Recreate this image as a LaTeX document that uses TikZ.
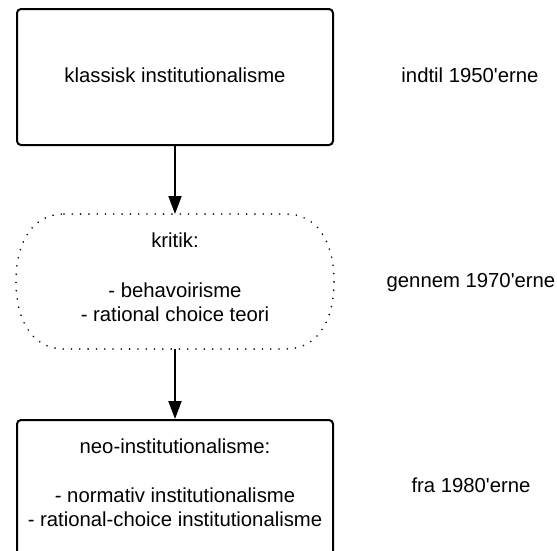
\documentclass[tikz,border=0pt]{standalone}
\usepackage{fontspec}
\setmainfont{Liberation Sans}[Ligatures=TeXOff]
\usetikzlibrary{arrows.meta}
\begin{document}
\begin{tikzpicture}[x=1pt,y=-1pt,
  box/.style={draw=black, line width=2pt, rounded corners=4pt,
    minimum width=316pt, minimum height=136pt, inner sep=0pt},
  bubblebox/.style={minimum width=318pt, minimum height=135pt, inner sep=0pt, outer sep=0pt},
  bubbleline/.style={line width=1.8pt, line cap=round, dash pattern=on 0pt off 8.3pt},
  txt/.style={anchor=base, inner sep=0pt, font=\fontsize{20.3}{24.5}\selectfont, text=black},
  flow/.style={-{Triangle[length=18pt,width=13pt]}, line width=2pt}]
\clip (0,0) rectangle (557,550);

% boxes
\node[box] (klassisk) at (175,77) {};
\node[bubblebox] (kritik) at (175,281.5) {};
\node[box] (neo) at (175,488) {};

% dotted rounded outline of the critique stage
\draw[bubbleline] (64,214) -- (286,214)
  .. controls (316,214) and (334,240) .. (334,281.5)
  .. controls (334,323) and (316,349) .. (286,349)
  -- (64,349)
  .. controls (34,349) and (16,323) .. (16,281.5)
  .. controls (16,240) and (34,214) .. cycle;

% texts in the boxes
\node[txt] (t1) at (175,82) {klassisk institutionalisme};
\node[txt] (t2) at (175,247) {kritik:};
\node[txt] (t3) at (175,297) {- behavoirisme};
\node[txt] (t4) at (175,321) {- rational choice teori};
\node[txt] (t5) at (175,453) {neo-institutionalisme:};
\node[txt] (t6) at (175,502) {- normativ institutionalisme};
\node[txt] (t7) at (175,526) {- rational-choice institutionalisme};

% periods
\node[txt] (p1) at (470,82) {indtil 1950'erne};
\node[txt] (p2) at (471,287) {gennem 1970'erne};
\node[txt] (p3) at (471,492) {fra 1980'erne};

% connectors
\draw[flow] (klassisk.south) -- (kritik.north);
\draw[flow] (kritik.south) -- (neo.north);
\end{tikzpicture}
\end{document}
